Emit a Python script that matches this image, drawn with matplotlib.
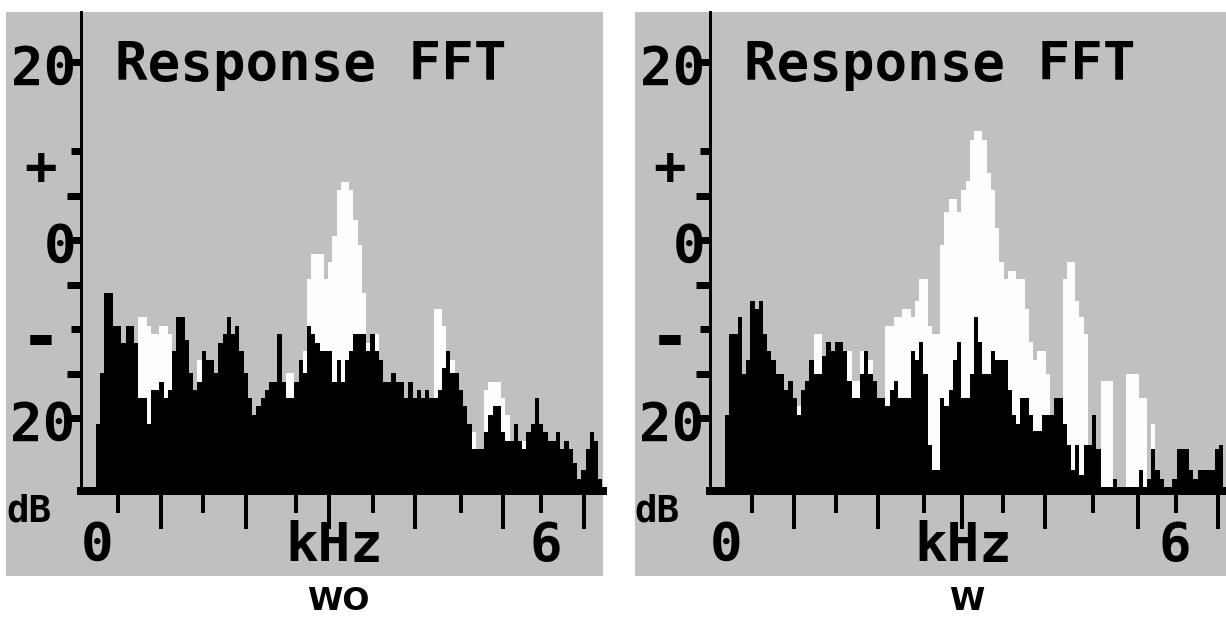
import numpy as np
import matplotlib
matplotlib.use("Agg")
import matplotlib.pyplot as plt
import matplotlib.transforms as mtransforms
from matplotlib.patches import Rectangle

# ---------------- data (dB per frequency bin) ----------------
bin_khz = 6 / 106          # width of one spectrum column in kHz

# panel "WO": black = response, white = reference spectrum (drawn behind)
black_wo = [-20.7, -14.9, -5.9, -5.9, -9.7, -9.7, -11.6, -9.7, -9.7, -11.6,
            -17.8, -17.8, -20.7, -16.9, -16.9, -15.9, -17.8, -16.9, -12.5, -8.7,
            -8.7, -11.2, -14.9, -16.9, -15.9, -12.5, -13.5, -13.5, -14.9, -11.6,
            -10.6, -8.7, -10.6, -9.7, -12.5, -14.9, -17.8, -19.7, -18.7, -17.8,
            -16.9, -15.9, -15.9, -10.6, -15.9, -17.8, -17.8, -15.9, -13.5, -14.9,
            -9.7, -10.6, -11.6, -12.5, -12.5, -12.5, -15.9, -13.5, -15.9, -13.5,
            -12.5, -10.6, -10.6, -10.6, -12.5, -10.6, -12.5, -13.5, -15.9, -15.9,
            -14.9, -15.9, -15.9, -17.8, -15.9, -17.8, -16.9, -17.8, -16.9, -17.8,
            -17.8, -16.9, -14.4, -12.5, -14.9, -14.9, -16.9, -18.7, -20.7, -23.5,
            -23.5, -23.5, -21.6, -19.7, -18.7, -18.7, -21.6, -22.6, -22.6, -20.7,
            -22.6, -23.5, -21.6, -20.7, -17.8, -20.7, -21.6, -22.6, -22.6, -21.6,
            -23.5, -22.6, -23.5, -25.0, -26.9, -25.8, -23.5, -21.6, -22.6, -26.9]

white_wo = [-20.7, -14.9, -5.9, -5.9, -9.7, -9.7, -11.6, -9.7, -9.7, -11.6,
            -8.7, -8.7, -9.7, -10.6, -10.6, -9.7, -9.7, -10.6, -12.5, -8.7,
            -8.7, -11.2, -14.9, -16.9, -13.5, -12.5, -13.5, -13.5, -14.9, -11.6,
            -10.6, -8.7, -10.6, -9.7, -12.5, -14.9, -17.8, -19.7, -18.7, -17.8,
            -16.9, -15.9, -15.9, -10.6, -15.9, -14.9, -14.9, -15.9, -13.5, -12.5,
            -4.4, -1.6, -1.6, -1.6, -4.4, -2.5, 0.4, 5.6, 6.5, 6.5,
            5.6, 2.3, -0.6, -5.9, -11.6, -10.6, -10.6, -13.5, -15.9, -15.9,
            -14.9, -15.9, -15.9, -17.8, -15.9, -17.8, -16.9, -17.8, -16.9, -17.8,
            -7.8, -7.8, -9.7, -12.5, -13.5, -14.9, -16.9, -18.7, -20.7, -21.6,
            -23.5, -23.5, -16.9, -15.9, -15.9, -15.9, -17.8, -19.7, -22.6, -20.7,
            -22.6, -22.6, -21.6, -20.7, -17.8, -20.7, -21.6, -22.6, -22.6, -21.6,
            -23.5, -22.6, -23.5, -25.0, -26.9, -25.8, -23.5, -21.6, -22.6, -26.9]

# panel "W"
black_w = [-19.7, -10.6, -10.6, -8.7, -15.0, -13.5, -6.9, -7.8, -6.9, -10.6,
           -12.5, -13.5, -15.0, -15.0, -16.9, -15.8, -17.7, -19.7, -16.9, -15.8,
           -13.5, -15.0, -15.0, -13.0, -11.5, -12.5, -11.5, -11.5, -12.5, -15.8,
           -17.7, -17.7, -15.0, -12.5, -15.0, -15.8, -17.7, -17.7, -18.7, -16.9,
           -15.8, -17.7, -17.7, -17.7, -12.5, -13.5, -11.5, -15.0, -23.0, -25.8,
           -25.8, -17.7, -18.7, -16.9, -13.5, -11.5, -17.7, -17.7, -15.0, -8.7,
           -11.5, -15.0, -15.0, -12.5, -13.5, -13.5, -13.5, -16.9, -19.7, -20.7,
           -17.7, -17.7, -19.7, -21.5, -21.5, -19.7, -19.7, -19.7, -17.7, -17.7,
           -20.7, -23.0, -25.8, -23.0, -26.4, -23.0, -23.0, -19.7, -23.5, -27.7,
           -27.7, -27.7, -26.9, -27.7, -27.7, -27.7, -27.7, -27.7, -25.8, -27.7,
           -26.9, -23.5, -25.8, -26.9, -27.7, -27.7, -26.9, -23.5, -23.5, -23.5,
           -25.8, -26.9, -25.8, -25.8, -25.8, -25.8, -23.5, -23.0, -27.7]

white_w = [-19.7, -10.6, -10.6, -8.7, -15.0, -13.5, -6.9, -7.8, -6.9, -10.6,
           -12.5, -13.5, -15.0, -15.0, -16.9, -15.8, -17.7, -18.7, -16.9, -15.8,
           -13.5, -10.6, -10.6, -13.0, -11.5, -12.5, -11.5, -11.5, -12.5, -12.5,
           -15.8, -15.8, -12.5, -12.5, -13.5, -15.8, -17.7, -17.7, -9.7, -9.7,
           -8.7, -8.7, -7.8, -7.8, -8.7, -6.9, -4.4, -4.4, -9.7, -10.6,
           -10.6, -0.6, 3.2, 4.6, 4.6, 3.2, 5.6, 6.6, 11.2, 12.3,
           12.3, 11.2, 7.5, 5.6, 1.4, -2.5, -4.4, -3.5, -3.5, -4.4,
           -4.4, -7.8, -11.5, -13.5, -12.5, -12.5, -15.0, -19.7, -17.7, -17.7,
           -4.4, -2.5, -2.5, -6.9, -8.7, -10.6, -23.0, -19.7, -23.5, -15.8,
           -15.8, -15.8, -26.9, -27.7, -27.7, -15.0, -15.0, -15.0, -17.7, -17.7,
           -26.9, -20.7, -25.8, -26.9, -27.7, -27.7, -26.9, -23.5, -23.5, -23.5,
           -25.8, -26.9, -25.8, -25.8, -25.8, -25.8, -23.5, -23.0, -27.7]

yticks_major = [20, 5, 0, -5, -15, -20]
yticks_minor = [10, -10]
xticks_major_wo = [0.87, 2.01, 3.13, 4.28, 5.46, 6.54]
xticks_minor_wo = [0.30, 1.44, 2.68, 3.71, 4.90, 5.97]
xticks_major_w = [0.93, 2.05, 3.18, 4.29, 5.54, 6.61]
xticks_minor_w = [0.36, 1.49, 2.67, 3.73, 4.93, 6.05]

title_text = "Response FFT"
ylabel_texts = ["20", "+", "0", "-", "20"]
unit_text = "dB"
xlabel_texts = ["0", "kHz", "6"]
captions = ["WO", "W"]

# ---------------- style / layout ----------------
GREY = "#c0c0c0"
WHITE = "#fdfdfd"
W, H = 1226, 619
PX_PER_DB = 8.9
Y_ZERO = 240.0
PX_PER_KHZ = 4.22 / bin_khz
MONO = "DejaVu Sans Mono"

fig = plt.figure(figsize=(W / 100, H / 100), dpi=100)
fig.patch.set_facecolor("white")
px = mtransforms.Affine2D().scale(1 / W, -1 / H).translate(0, 1) + fig.transFigure


def draw_panel(dx, black, white, xt_major, xt_minor, caption, grey_right):
    x_axis = 80.5 + dx
    x_start = 96 + dx
    # grey panel background
    fig.patches.append(Rectangle((6 + dx, 12), grey_right - (6 + dx), 564,
                                 transform=px, facecolor=GREY, edgecolor="none",
                                 zorder=-5))
    ax = fig.add_axes([x_axis / W, 1 - 491 / H, (grey_right - x_axis) / W, (491 - 12) / H])
    ax.set_facecolor(GREY)
    ax.set_xlim((x_axis - x_start) / PX_PER_KHZ, (grey_right - x_start) / PX_PER_KHZ)
    ylo = (Y_ZERO - 491) / PX_PER_DB
    ax.set_ylim(ylo, (Y_ZERO - 12) / PX_PER_DB)

    n = len(black)
    edges = np.arange(n + 1) * bin_khz
    ax.fill_between(edges, ylo, np.append(white, white[-1]), step="post",
                    color=WHITE, lw=0, antialiased=False, zorder=1)
    ax.fill_between(edges, ylo, np.append(black, black[-1]), step="post",
                    color="black", lw=0, antialiased=False, zorder=2)

    for s in ("top", "right"):
        ax.spines[s].set_visible(False)
    ax.spines["left"].set_linewidth(3 * 0.72)
    ax.spines["bottom"].set_linewidth(8 * 0.72)
    ax.spines["left"].set_zorder(5)
    ax.spines["bottom"].set_zorder(5)

    ax.set_xticks(xt_major)
    ax.set_xticks(xt_minor, minor=True)
    ax.set_yticks(yticks_major)
    ax.set_yticks(yticks_minor, minor=True)
    ax.tick_params(axis="x", which="major", direction="out", length=38 * 0.72,
                   width=4 * 0.72, color="black", labelbottom=False)
    ax.tick_params(axis="x", which="minor", direction="out", length=22 * 0.72,
                   width=4 * 0.72, color="black", labelbottom=False)
    ax.tick_params(axis="y", which="major", direction="out", length=14.5 * 0.72,
                   width=7 * 0.72, color="black", labelleft=False)
    ax.tick_params(axis="y", which="minor", direction="out", length=10.5 * 0.72,
                   width=7 * 0.72, color="black", labelleft=False)

    tk = dict(transform=px, color="black", family=MONO, weight="bold", va="baseline")
    fig.text(311 + dx, 80, title_text, ha="center", fontsize=39, **tk)
    ypos = [(43.5, 85, 39), (40.5, 184, 39), (60, 262.5, 39), (40.5, 360, 50), (42.5, 440.5, 39)]
    for s, (x, y, fs) in zip(ylabel_texts, ypos):
        fig.text(x + dx, y, s, ha="center", fontsize=fs, **tk)
    fig.text(28.5 + dx, 522, unit_text, ha="center", fontsize=27, **tk)
    for s, x in zip(xlabel_texts, [97.5, 334.5, 545.5]):
        fig.text(x + dx, 560.5, s, ha="center", fontsize=39, **tk)
    fig.text(338 + dx, 610, caption, transform=px, ha="center", va="baseline",
             fontsize=23, family="DejaVu Sans", weight="bold", color="black")
    return ax


draw_panel(0, black_wo, white_wo, xticks_major_wo, xticks_minor_wo, captions[0], 603)
draw_panel(629, black_w, white_w, xticks_major_w, xticks_minor_w, captions[1], 1226)

fig.savefig("out.png", dpi=100, facecolor="white")
